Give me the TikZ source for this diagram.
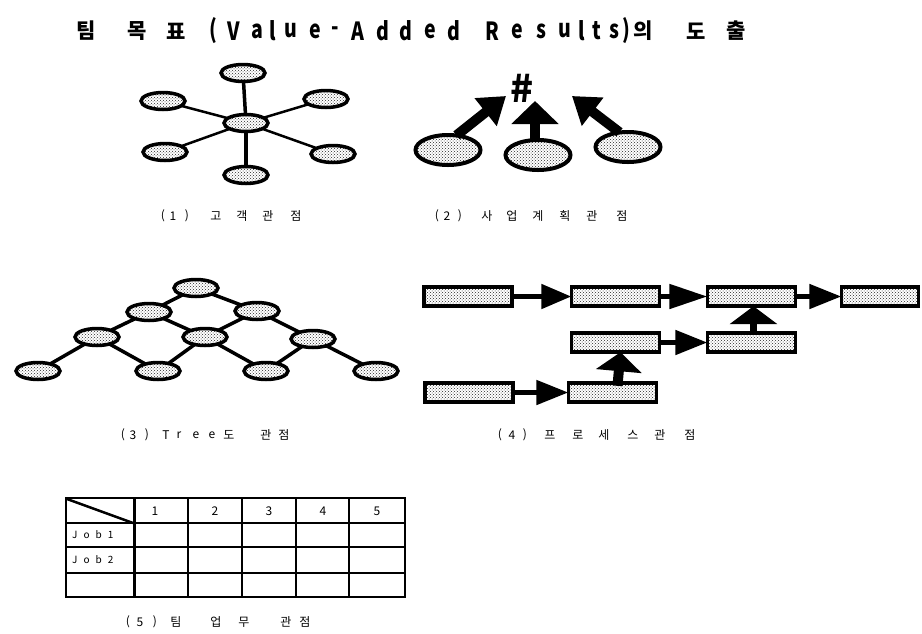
\documentclass[tikz,border=0pt]{standalone}
\usepackage{fontspec}
\setmainfont{Noto Sans CJK KR}
\usetikzlibrary{arrows.meta,shapes.geometric,patterns}
\newcommand\nx[1]{\scalebox{0.78}[1]{#1}}
\begin{document}
\begin{tikzpicture}[x=1pt,y=-1pt,
  texture/.style={preaction={fill=white},pattern=crosshatch dots,pattern color=black!85,postaction={draw=black,line width=#1}},
  ell/.style={ellipse,texture=3.5pt,minimum width=44pt,minimum height=17pt,inner sep=0pt},
  bigell/.style={ellipse,texture=4pt,minimum width=65pt,minimum height=30pt,inner sep=0pt},
  pbox/.style={rectangle,texture=3.5pt,minimum width=88pt,minimum height=19pt,inner sep=0pt},
  thinedge/.style={line width=2.5pt},
  thickedge/.style={line width=3.5pt},
  bigarrow/.style={line width=10pt,-{Triangle[length=26pt,width=34pt]}},
  uparrow/.style={line width=10pt,-{Triangle[length=23pt,width=46pt]}},
  procarrow/.style={line width=5pt,-{Triangle[length=#1,width=24pt]}},
  procarrow/.default=30pt,
  lbl/.style={inner sep=0pt,font=\fontsize{12}{12}\selectfont},
  tk/.style={inner sep=0pt,font=\fontsize{21}{21}\selectfont\bfseries},
  tl/.style={inner sep=0pt,font=\fontsize{25}{25}\selectfont\bfseries},
  cell/.style={inner sep=0pt,font=\fontsize{12}{12}\selectfont},
  tline/.style={line width=2pt}
]
\useasboundingbox (0,0) rectangle (922,633);
\fill[white] (0,0) rectangle (922,633);

% ---------- title ----------
\foreach \x/\c [count=\i] in {86/팀,137/목,176/표,643/의,696/도,736/출}
  \node[tk,name=tk\i] at (\x,31) {\c};
\foreach \x/\c [count=\i] in {213/{(},234/V,257/a,273/l,291/u,315/e,335/-,358/A,383/d,406/d,430/e,454/d,492/R,517/e,541/s,565/u,582/l,597/t,614/s,626/{)}}
  \node[tl,name=tl\i] at (\x,31) {\nx{\c}};

% ---------- (1) customer view ----------
\node[ell] (c)   at (246,123) {};
\node[ell] (top) at (243,73) {};
\node[ell] (lu)  at (163,101) {};
\node[ell] (ru)  at (326,99) {};
\node[ell] (ll)  at (165,152) {};
\node[ell] (rl)  at (333,154) {};
\node[ell] (bot) at (246,175) {};
\draw[thickedge] (c) -- (top);
\draw[thickedge] (c) -- (bot);
\draw[thinedge] (c) -- (lu);
\draw[thinedge] (c) -- (ru);
\draw[thinedge] (c) -- (ll);
\draw[thinedge] (c) -- (rl);
\foreach \x/\c [count=\i] in {163/{(},173/1,187/{)},216/고,242/객,268/관,296/점}
  \node[lbl,name=la\i] at (\x,216) {\c};

% ---------- (2) business plan view ----------
\node[bigell] (pl) at (448,150) {};
\node[bigell] (pm) at (538,155) {};
\node[bigell] (pr) at (628,147) {};
\node[inner sep=0pt,font=\fontsize{38}{38}\selectfont\bfseries] (hash) at (522,88) {\#};
\coordinate (tipL) at (506,96);
\coordinate (tipM) at (535,101);
\coordinate (tipR) at (572,96);
\draw[bigarrow] (pl.60) -- (tipL);
\draw[uparrow] (tipM |- pm.north) -- (tipM);
\draw[bigarrow] (pr.120) -- (tipR);
\foreach \x/\c [count=\i] in {437/{(},447/2,460/{)},487/사,512/업,538/계,565/획,592/관,622/점}
  \node[lbl,name=lb\i] at (\x,216) {\c};

% ---------- (3) tree view ----------
\node[ell] (t0)  at (196,288) {};
\node[ell] (t2a) at (149,312) {};
\node[ell] (t2b) at (257,311) {};
\node[ell] (t3a) at (97,337) {};
\node[ell] (t3b) at (205,337) {};
\node[ell] (t3c) at (313,339) {};
\node[ell] (t4a) at (38,371) {};
\node[ell] (t4b) at (158,371) {};
\node[ell] (t4c) at (266,371) {};
\node[ell] (t4d) at (376,371) {};
\foreach \a/\b in {t0/t2a,t0/t2b,t2a/t3a,t2a/t3b,t2b/t3b,t2b/t3c,t3a/t4a,t3a/t4b,t3b/t4b,t3b/t4c,t3c/t4c,t3c/t4d}
  \draw[thickedge] (\a) -- (\b);
\foreach \x/\c [count=\i] in {123/{(},133/3,147/{)},166/T,179/r,196/e,212/e,229/도,266/관,284/점}
  \node[lbl,name=lc\i] at (\x,435) {\c};

% ---------- (4) process view ----------
\node[pbox] (A) at (468,296.5) {};
\node[pbox] (B) at (615.5,296.5) {};
\node[pbox] (C) at (751.5,296.5) {};
\node[pbox,minimum width=77pt] (D) at (880,296.5) {};
\node[pbox] (E) at (615.5,342.5) {};
\node[pbox] (F) at (751.5,342.5) {};
\node[pbox] (G) at (469,392.5) {};
\node[pbox] (H) at (612.5,392.5) {};
\draw[procarrow=30pt] (A) -- (B);
\draw[procarrow=38pt] (B) -- (C);
\draw[procarrow=32pt] (C) -- (D);
\draw[procarrow=32pt] (E) -- (F);
\draw[procarrow=32pt] (G) -- (H);
\draw[line width=7pt,-{Triangle[length=18pt,width=47pt]}] ([xshift=2pt]F.north) -- ([xshift=2pt]C.south);
\draw[line width=10pt,-{Triangle[length=19pt,width=45pt]}] ([xshift=5pt,yshift=-3pt]H.north) -- ([xshift=5pt]E.south);
\foreach \x/\c [count=\i] in {500/{(},512/4,525/{)},550/프,578/로,604/세,633/스,660/관,690/점}
  \node[lbl,name=ld\i] at (\x,435) {\c};

% ---------- (5) team task view ----------
\draw[tline] (66,498) rectangle (405,597);
\foreach \y in {523,547,573} \draw[tline] (66,\y) -- (405,\y);
\draw[line width=3pt] (134,498) -- (134,597);
\foreach \x in {188,242,296,349} \draw[tline] (\x,498) -- (\x,597);
\draw[line width=2.5pt] (67,499) -- (133,523);
\foreach \x/\c [count=\i] in {155/1,215/2,269/3,323/4,377/5}
  \node[cell,name=hd\i] at (\x,511) {\c};
\node[inner sep=0pt,anchor=west,font=\fontsize{10}{10}\selectfont\addfontfeature{LetterSpace=60}] (j1) at (72,535) {Job1};
\node[inner sep=0pt,anchor=west,font=\fontsize{10}{10}\selectfont\addfontfeature{LetterSpace=60}] (j2) at (72,560) {Job2};
\foreach \x/\c [count=\i] in {128/{(},140/5,155/{)},176/팀,216/업,244/무,286/관,305/점}
  \node[lbl,name=le\i] at (\x,622) {\c};
\end{tikzpicture}
\end{document}
